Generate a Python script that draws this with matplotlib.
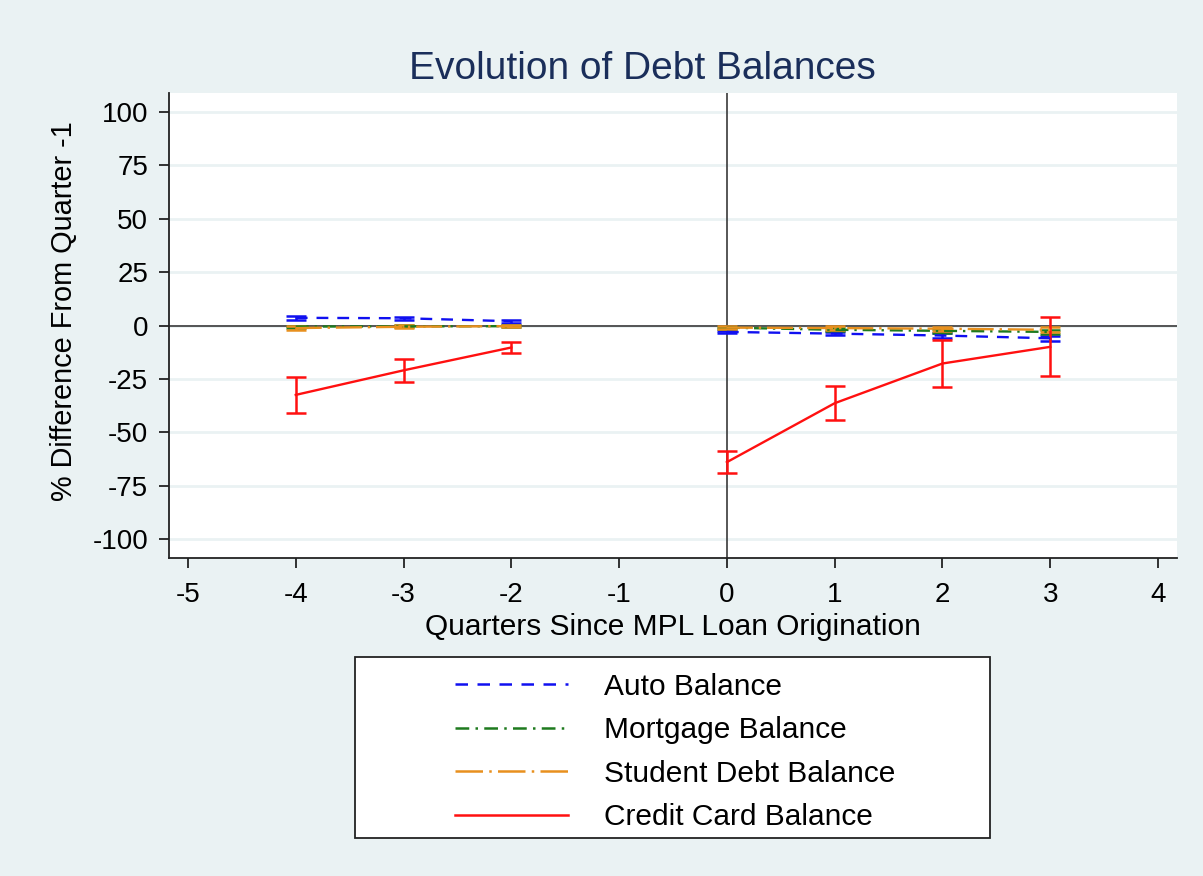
import matplotlib.pyplot as plt
from matplotlib.lines import Line2D
from matplotlib.patches import Rectangle

plt.rcParams['font.family'] = ['Liberation Sans', 'DejaVu Sans']
plt.rcParams['axes.unicode_minus'] = False

# quarters relative to origination (quarter -1 is the base, so no point there)
quarters_pre = [-4, -3, -2]
quarters_post = [0, 1, 2, 3]

auto_pre = [3.6, 3.4, 2.0]
auto_post = [-3.0, -3.8, -4.7, -6.0]
auto_err_pre = [0.8, 0.8, 0.6]
auto_err_post = [0.6, 0.8, 1.0, 1.2]

mortgage_pre = [-0.5, -0.4, -0.3]
mortgage_post = [-1.0, -2.0, -2.5, -3.0]
mortgage_err_pre = [0.5, 0.5, 0.4]
mortgage_err_post = [0.5, 0.7, 0.8, 1.0]

student_pre = [-1.2, -0.6, -0.3]
student_post = [-1.0, -1.2, -1.5, -2.0]
student_err_pre = [0.8, 0.7, 0.6]
student_err_post = [0.6, 0.8, 1.0, 1.2]

credit_pre = [-32.5, -21.0, -10.3]
credit_post = [-64.0, -36.4, -17.8, -10.0]
credit_err_pre = [8.6, 5.3, 2.6]
credit_err_post = [5.0, 8.0, 10.8, 13.8]

labels = ["Auto Balance", "Mortgage Balance", "Student Debt Balance", "Credit Card Balance"]

bg = '#EAF2F3'
fig = plt.figure(figsize=(12.03, 8.76), dpi=100, facecolor=bg)
ax = fig.add_axes([169/1203, 1-558/876, (1177-169)/1203, (558-93)/876])
ax.set_facecolor('white')

series = [
    (auto_pre, auto_post, auto_err_pre, auto_err_post, '#1010F0', (0, (5, 3.8))),
    (mortgage_pre, mortgage_post, mortgage_err_pre, mortgage_err_post, '#1E7A1E', (0, (5.5, 2.5, 1, 2.5))),
    (student_pre, student_post, student_err_pre, student_err_post, '#E8901E', (0, (11, 2.5, 1, 2.5))),
    (credit_pre, credit_post, credit_err_pre, credit_err_post, '#FF1010', '-'),
]

for pre, post, epre, epost, col, ls in series:
    for xs, ys, es in [(quarters_pre, pre, epre), (quarters_post, post, epost)]:
        ax.errorbar(xs, ys, yerr=es, color=col, linestyle=ls, linewidth=1.7,
                    elinewidth=1.8, capsize=7, capthick=1.8, zorder=3)

ax.set_xlim(-5.176, 4.176)
ax.set_ylim(-108.9, 108.9)
ax.set_xticks(range(-5, 5))
ax.set_yticks(range(-100, 101, 25))
ax.yaxis.grid(True, color=bg, linewidth=2)
ax.set_axisbelow(True)
ax.axhline(0, color='#3a3a3a', linewidth=1.2, zorder=2)
ax.axvline(0, color='#3a3a3a', linewidth=1.2, zorder=2)

for s in ['top', 'right']:
    ax.spines[s].set_visible(False)
for s in ['left', 'bottom']:
    ax.spines[s].set_linewidth(1.3)
    ax.spines[s].set_color('#222222')
ax.tick_params(direction='out', length=7, width=1.3, labelsize=20, colors='#222222')
ax.tick_params(axis='x', pad=10)
ax.tick_params(axis='y', pad=8)
ax.tick_params(labelcolor='black')

ax.set_xlabel("Quarters Since MPL Loan Origination", fontsize=21.5, labelpad=4)
ax.set_ylabel("% Difference From Quarter -1", fontsize=20.8)
ax.yaxis.set_label_coords(-0.09, 0.53)
ax.set_title("Evolution of Debt Balances", fontsize=28, color='#1A2E5A', pad=10, x=0.47)

# legend box
fig.patches.append(Rectangle((355/1203, 1-838/876), 635/1203, 181/876,
                             transform=fig.transFigure, facecolor='white',
                             edgecolor='#222222', linewidth=1.3))
handles = [Line2D([], [], color=s[4], linestyle=s[5], linewidth=1.8) for s in series]
fig.legend(handles, labels, loc='upper left', bbox_to_anchor=(428/1203, 1-646/876),
           frameon=False, fontsize=21.5, handlelength=3.78, handletextpad=1.2,
           labelspacing=0.52)

fig.savefig('out.png', dpi=100, facecolor=bg)
